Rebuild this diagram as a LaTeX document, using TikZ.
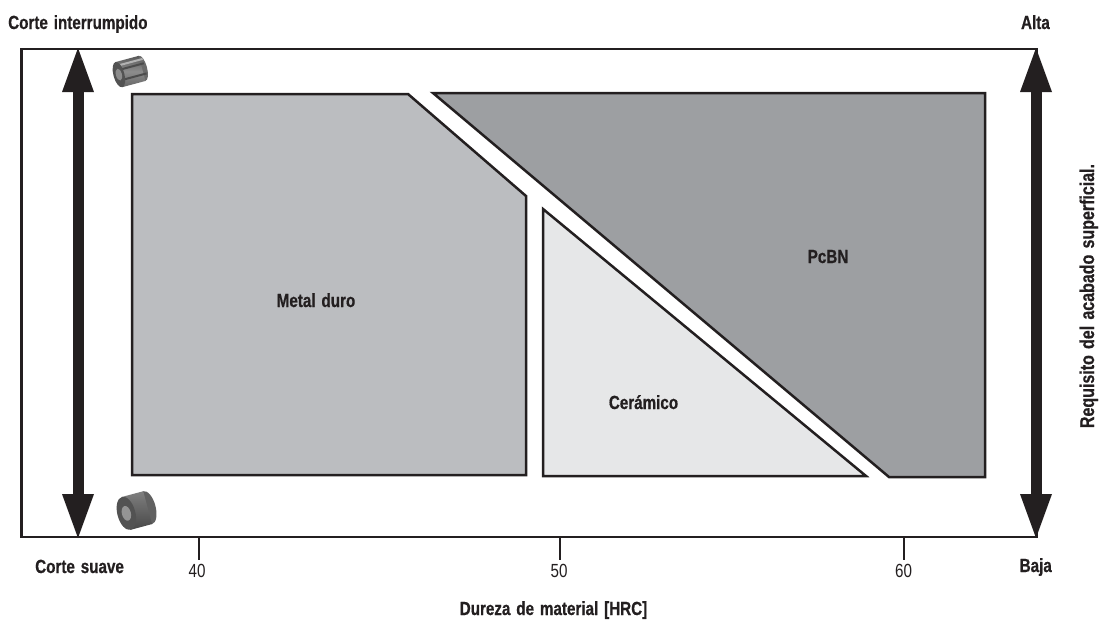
\documentclass[tikz,border=0pt]{standalone}
\usepackage{fontspec}
\setmainfont[FakeStretch=0.80,WordSpace=1.4,BoldFeatures={FakeBold=0.6}]{Liberation Sans}
\usetikzlibrary{arrows.meta}
\definecolor{ink}{HTML}{231F20}
\definecolor{metalc}{HTML}{BBBDC0}
\definecolor{pcbnc}{HTML}{9D9FA2}
\definecolor{ceramc}{HTML}{E6E7E8}
\tikzset{
  lbl/.style={font=\fontsize{19}{21}\selectfont\bfseries,text=ink,inner sep=0pt},
  lblwide/.style={font=\fontsize{20}{22}\selectfont\bfseries,text=ink,inner sep=0pt},
  num/.style={font=\fontsize{19}{21}\selectfont,text=ink,inner sep=0pt},
  region/.style={draw=ink,line width=2.5pt,line join=miter},
  frameline/.style={draw=ink,line width=2.5pt},
  tickline/.style={draw=ink,line width=2.5pt},
  bigarrow/.style={draw=ink,line width=11pt,{Triangle[width=32pt,length=44pt,line width=0pt]}-{Triangle[width=32pt,length=44pt,line width=0pt]}},
}
\begin{document}
\begin{tikzpicture}[x=1pt,y=-1pt]
\useasboundingbox (0,0) rectangle (1099,619);
% regions
\path[region,fill=metalc] (132,94) -- (408,94) -- (526,196) -- (526,475) -- (132,475) -- cycle;
\path[region,fill=pcbnc] (433,93) -- (985,93) -- (985,477) -- (889,477) -- cycle;
\path[region,fill=ceramc] (543,209) -- (866,476) -- (543,476) -- cycle;
% frame
\path[frameline] (21.5,49) rectangle (1037,537);
% arrows
\coordinate (lt) at (78,48); \coordinate (lb) at (78,538);
\coordinate (rt) at (1036,48); \coordinate (rb) at (1036,538);
\draw[bigarrow] (lt) -- (lb);
\draw[bigarrow] (rt) -- (rb);
% ticks
\coordinate (t40a) at (199,537); \coordinate (t40b) at (199,560);
\coordinate (t50a) at (560,537); \coordinate (t50b) at (560,560);
\coordinate (t60a) at (904,537); \coordinate (t60b) at (904,560);
\draw[tickline] (t40a) -- (t40b);
\draw[tickline] (t50a) -- (t50b);
\draw[tickline] (t60a) -- (t60b);
% icon top: fluted insert
\begin{scope}[shift={(130.5,71.5)},rotate=15]
 \fill[black!58] (12,0) ellipse (5 and 13);
 \shade[top color=black!65,bottom color=black!60,middle color=black!45] (-12,-13) rectangle (12,13);
 \fill[black!70] (-11,-5.5) rectangle (15,-3.5);
 \fill[black!70] (-11,5) rectangle (15,7);
 \fill[black!30] (-10,-10) rectangle (15,-8);
 \fill[black!68] (-12,0) ellipse (5.5 and 13);
 \fill[black!45] (-12,0) ellipse (3 and 6);
\end{scope}
% icon bottom: plain insert
\begin{scope}[shift={(137,510.5)},rotate=15]
 \fill[black!62] (11,0) ellipse (8 and 17);
 \shade[top color=black!50,bottom color=black!72] (-11,-17) rectangle (11,17);
 \fill[black!68] (-11,0) ellipse (9 and 17);
 \fill[black!42] (-11,0) ellipse (4.5 and 7.5);
\end{scope}
% labels
\node[lbl,anchor=base west] (ci) at (8,29) {Corte interrumpido};
\node[lbl,anchor=base east] (al) at (1050,29) {Alta};
\node[lbl,anchor=base west] (cs) at (35,573) {Corte suave};
\node[lbl,anchor=base east] (ba) at (1052,572) {Baja};
\node[lbl,anchor=base] (du) at (553.5,615) {Dureza de material [HRC]};
\node[lblwide,rotate=90,anchor=base] (re) at (1094,296) {Requisito del acabado superficial.};
\node[lbl,anchor=base] (md) at (316,307) {Metal duro};
\node[lbl,anchor=base] (pc) at (828,263) {PcBN};
\node[lbl,anchor=base] (ce) at (643.5,409) {Cerámico};
\node[num,anchor=base] (n40) at (197,577.5) {40};
\node[num,anchor=base] (n50) at (559,577.5) {50};
\node[num,anchor=base] (n60) at (903.5,577.5) {60};
\end{tikzpicture}
\end{document}
